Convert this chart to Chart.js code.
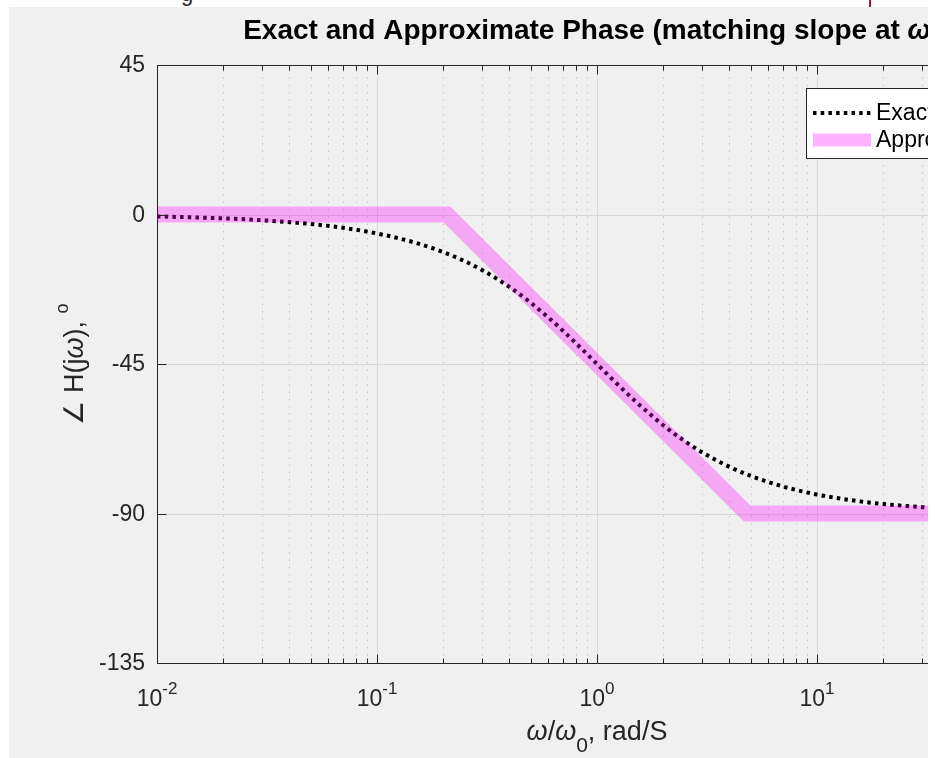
<!DOCTYPE html>
<html>
<head>
<meta charset="utf-8">
<title>Exact and Approximate Phase</title>
<script src="https://cdn.jsdelivr.net/npm/chart.js@4.4.1/dist/chart.umd.min.js"></script>
<style>
    html, body { margin: 0; padding: 0; background: #fff; overflow: hidden; }
    #wrap { position: relative; width: 935px; height: 758px; overflow: hidden; }
    #phaseChart { position: absolute; left: 0; top: 0; clip-path: inset(7px 172px 0 9px); }
    #topMark { position: absolute; left: 869px; top: 0; width: 2px; height: 7px; background: #a2142f; }
    #topText { position: absolute; left: 181px; top: -19px; font: 22px 'Liberation Sans', Arial, sans-serif; color: #262626; }
</style>
</head>
<body>
<div id="wrap">
    <span id="topText">g</span>
    <div id="topMark"></div>
    <canvas id="phaseChart" width="1100" height="758"></canvas>
</div>
<script>
// frequency samples (omega / omega0) and phase of H(jw) in degrees
const omegaExact = [0.01, 0.02, 0.03, 0.05, 0.07, 0.1, 0.15, 0.2, 0.25, 0.3, 0.4, 0.5, 0.6, 0.7, 0.85, 1,
    1.2, 1.5, 2, 2.5, 3, 4, 5, 7, 10, 15, 20, 30, 50, 70, 100];
const phaseExact = [-0.57, -1.15, -1.72, -2.86, -4.0, -5.71, -8.53, -11.31, -14.04, -16.7, -21.8, -26.57, -30.96, -34.99, -40.36, -45,
    -50.19, -56.31, -63.43, -68.2, -71.57, -75.96, -78.69, -81.87, -84.29, -86.19, -87.14, -88.09, -88.85, -89.18, -89.43];

// straight-line approximation: flat, slope through the corner, flat
const omegaApprox = [0.01, 0.208, 4.81, 100];
const phaseApprox = [0, 0, -90, -90];

const xMin = 0.01, xMax = 100;
const xDecades = [0.01, 0.1, 1, 10, 100];
const yTicks = [-135, -90, -45, 0, 45];
const seriesLabels = ['Exact', 'Approximate'];

const FONT = "'Liberation Sans', Arial, sans-serif";
const AXIS = '#262626';
const BG = '#f0f0f0';

// minor tick positions 2..9 within each decade
const xMinor = [];
xDecades.slice(0, -1).forEach(d => {
    for (let k = 2; k <= 9; k++) xMinor.push(d * k);
});

// draw a run of text pieces (font, rise) starting at x along a baseline
function drawRuns(ctx, runs, x, y) {
    runs.forEach(r => {
        ctx.font = r.font;
        ctx.fillText(r.text, x, y - (r.rise || 0));
        x += ctx.measureText(r.text).width;
    });
}
function runsWidth(ctx, runs) {
    let w = 0;
    runs.forEach(r => { ctx.font = r.font; w += ctx.measureText(r.text).width; });
    return w;
}

const matlabAxes = {
    id: 'matlabAxes',
    beforeDraw(chart) {
        const ctx = chart.ctx;
        ctx.save();
        ctx.fillStyle = BG;
        ctx.fillRect(0, 0, chart.width, chart.height);
        ctx.restore();
    },
    beforeDatasetsDraw(chart) {
        const { ctx, chartArea: a, scales: { x, y } } = chart;
        ctx.save();
        // minor grid, dotted
        ctx.strokeStyle = '#c2c2c2';
        ctx.lineWidth = 1;
        ctx.setLineDash([1.5, 5.8]);
        xMinor.forEach(v => {
            const px = Math.round(x.getPixelForValue(v)) + 0.5;
            ctx.beginPath(); ctx.moveTo(px, a.bottom); ctx.lineTo(px, a.top); ctx.stroke();
        });
        // major grid, solid
        ctx.setLineDash([]);
        ctx.strokeStyle = '#d9d9d9';
        xDecades.forEach(v => {
            const px = Math.round(x.getPixelForValue(v)) + 0.5;
            ctx.beginPath(); ctx.moveTo(px, a.bottom); ctx.lineTo(px, a.top); ctx.stroke();
        });
        yTicks.forEach(v => {
            const py = Math.round(y.getPixelForValue(v)) + 0.5;
            ctx.beginPath(); ctx.moveTo(a.left, py); ctx.lineTo(a.right, py); ctx.stroke();
        });
        ctx.restore();
    },
    afterDatasetsDraw(chart) {
        const { ctx, chartArea: a, scales: { x, y } } = chart;
        ctx.save();
        ctx.strokeStyle = AXIS;
        ctx.lineWidth = 1;
        const L = Math.round(a.left) + 0.5, R = Math.round(a.right) + 0.5;
        const T = Math.round(a.top) + 0.5, B = Math.round(a.bottom) + 0.5;
        ctx.beginPath();
        ctx.moveTo(L, T); ctx.lineTo(R, T); ctx.lineTo(R, B); ctx.lineTo(L, B); ctx.closePath();
        ctx.stroke();

        // inward ticks on bottom and top
        const tick = (v, len) => {
            const px = Math.round(x.getPixelForValue(v)) + 0.5;
            ctx.beginPath();
            ctx.moveTo(px, B); ctx.lineTo(px, B - len);
            ctx.moveTo(px, T); ctx.lineTo(px, T + len);
            ctx.stroke();
        };
        xMinor.forEach(v => tick(v, 5));
        xDecades.forEach(v => tick(v, 9));
        yTicks.forEach(v => {
            const py = Math.round(y.getPixelForValue(v)) + 0.5;
            ctx.beginPath();
            ctx.moveTo(L, py); ctx.lineTo(L + 9, py);
            ctx.moveTo(R, py); ctx.lineTo(R - 9, py);
            ctx.stroke();
        });

        // tick labels
        ctx.fillStyle = AXIS;
        ctx.textAlign = 'right';
        ctx.textBaseline = 'middle';
        ctx.font = '23px ' + FONT;
        yTicks.forEach(v => ctx.fillText(String(v), a.left - 12, y.getPixelForValue(v) + 1));

        ctx.textAlign = 'left';
        ctx.textBaseline = 'alphabetic';
        xDecades.forEach(v => {
            const runs = [
                { text: '10', font: '23px ' + FONT },
                { text: String(Math.round(Math.log10(v))), font: '17px ' + FONT, rise: 12 }
            ];
            const w = runsWidth(ctx, runs);
            drawRuns(ctx, runs, x.getPixelForValue(v) - w / 2, 706);
        });

        // x axis title
        const xRuns = [
            { text: 'ω', font: 'italic 27px ' + FONT },
            { text: '/', font: '27px ' + FONT },
            { text: 'ω', font: 'italic 27px ' + FONT },
            { text: '0', font: '21px ' + FONT, rise: -12 },
            { text: ', rad/S', font: '27px ' + FONT }
        ];
        const cx = (a.left + a.right) / 2;
        drawRuns(ctx, xRuns, cx - runsWidth(ctx, xRuns) / 2, 740);

        // y axis title, rotated
        const yRuns = [
            { text: '∠ H(j', font: '27px ' + FONT },
            { text: 'ω', font: 'italic 27px ' + FONT },
            { text: '), ', font: '27px ' + FONT },
            { text: 'o', font: '18px ' + FONT, rise: 15 }
        ];
        ctx.save();
        ctx.translate(83, (a.top + a.bottom) / 2);
        ctx.rotate(-Math.PI / 2);
        drawRuns(ctx, yRuns, -runsWidth(ctx, yRuns) / 2, 0);
        ctx.restore();

        // title
        ctx.fillStyle = '#000';
        const tRuns = [
            { text: 'Exact and Approximate Phase (matching slope at ', font: 'bold 28px ' + FONT },
            { text: 'ω', font: 'bold italic 28px ' + FONT },
            { text: '0', font: 'bold 19px ' + FONT, rise: -6 },
            { text: ')', font: 'bold 28px ' + FONT }
        ];
        drawRuns(ctx, tRuns, cx - runsWidth(ctx, tRuns) / 2, 39);
        ctx.restore();
    },
    afterDraw(chart) {
        // legend box in the upper right corner
        const ctx = chart.ctx;
        const ds = chart.data.datasets;
        ctx.save();
        ctx.fillStyle = '#fff';
        ctx.fillRect(806.5, 88.5, 200, 70);
        ctx.strokeStyle = AXIS;
        ctx.lineWidth = 1;
        ctx.strokeRect(806.5, 88.5, 200, 70);

        ctx.strokeStyle = ds[0].borderColor;
        ctx.lineWidth = ds[0].borderWidth;
        ctx.setLineDash(ds[0].borderDash);
        ctx.beginPath(); ctx.moveTo(813, 113); ctx.lineTo(871, 113); ctx.stroke();

        ctx.setLineDash([]);
        ctx.strokeStyle = ds[1].borderColor;
        ctx.lineWidth = 13;
        ctx.beginPath(); ctx.moveTo(813, 140); ctx.lineTo(871, 140); ctx.stroke();

        ctx.fillStyle = '#000';
        ctx.font = '23px ' + FONT;
        ctx.textBaseline = 'middle';
        ctx.fillText(ds[0].label, 876, 114);
        ctx.fillText(ds[1].label, 876, 141);
        ctx.restore();
    }
};

new Chart(document.getElementById('phaseChart'), {
    type: 'line',
    data: {
        datasets: [
            {
                label: seriesLabels[0],
                data: omegaExact.map((w, i) => ({ x: w, y: phaseExact[i] })),
                borderColor: '#000',
                borderWidth: 4,
                borderDash: [3.5, 4.2],
                borderCapStyle: 'butt',
                pointRadius: 0,
                cubicInterpolationMode: 'monotone',
                order: 1
            },
            {
                label: seriesLabels[1],
                data: omegaApprox.map((w, i) => ({ x: w, y: phaseApprox[i] })),
                borderColor: 'rgba(255, 0, 255, 0.3)',
                borderWidth: 16,
                borderJoinStyle: 'miter',
                borderCapStyle: 'butt',
                pointRadius: 0,
                tension: 0,
                order: 0
            }
        ]
    },
    options: {
        responsive: false,
        animation: false,
        events: [],
        layout: { padding: { left: 157, top: 65, right: 63, bottom: 95 } },
        plugins: { legend: { display: false }, title: { display: false }, tooltip: { enabled: false } },
        scales: {
            x: { type: 'logarithmic', min: xMin, max: xMax, display: false },
            y: { type: 'linear', min: yTicks[0], max: yTicks[yTicks.length - 1], display: false }
        }
    },
    plugins: [matlabAxes]
});
</script>
</body>
</html>
